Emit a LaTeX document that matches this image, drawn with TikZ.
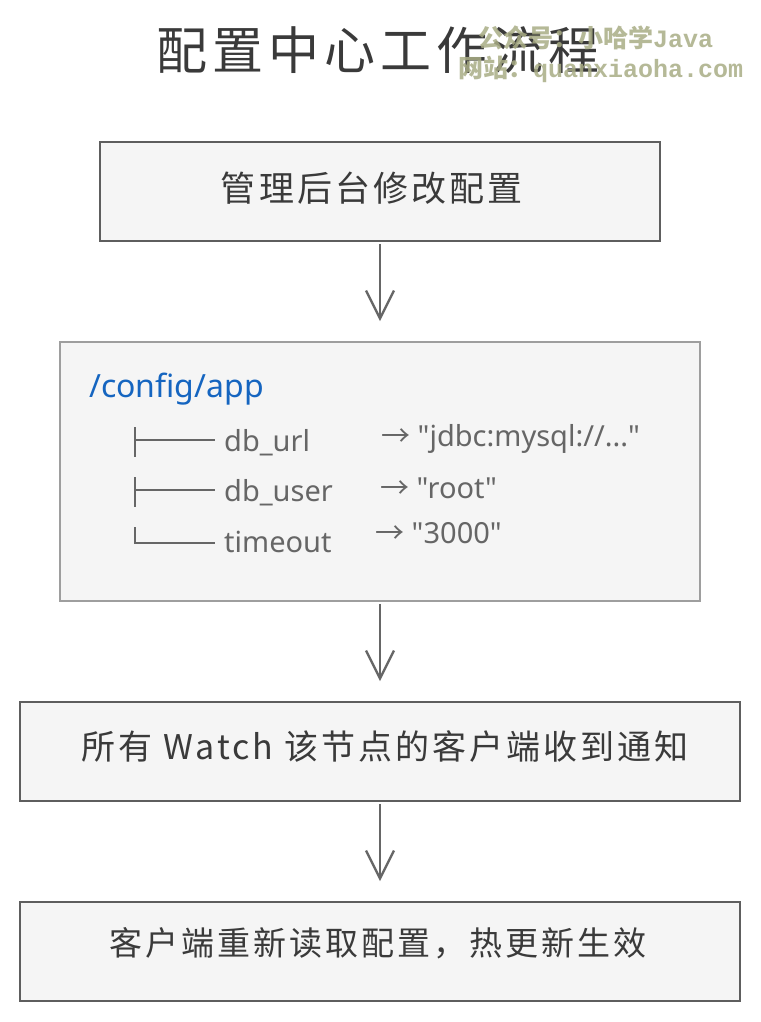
\documentclass[tikz,border=0pt]{standalone}
\usepackage{fontspec}
\setmainfont{Noto Sans}[Ligatures=TeXOff]
\newfontfamily\cjk{Noto Sans CJK SC}
\newfontfamily\cjkspaced{Noto Sans CJK SC}[LetterSpace=9]
\newfontfamily\cjktitle{Noto Sans CJK SC}[LetterSpace=10]
\newfontfamily\wmmono{Liberation Mono}
\usetikzlibrary{arrows.meta}
\definecolor{boxfill}{HTML}{F5F5F5}
\definecolor{boxline}{HTML}{5E5E5E}
\definecolor{boxlinelight}{HTML}{9E9E9E}
\definecolor{titlecol}{HTML}{3A3A3A}
\definecolor{pathblue}{HTML}{1565C0}
\definecolor{treegrey}{HTML}{666666}
\definecolor{wmcol}{HTML}{A9AD85}
\definecolor{arrcol}{HTML}{666666}
\tikzset{
  stepbox/.style={draw=boxline, line width=1.6pt, fill=boxfill, inner sep=0pt},
  keybox/.style={draw=boxlinelight, line width=1.6pt, fill=boxfill, inner sep=0pt},
  boxtext/.style={font=\cjk\fontsize{35}{40}\selectfont, text=titlecol},
  flowarr/.style={draw=arrcol, line width=2.4pt, -{Straight Barb[length=28pt,width=28pt,line width=2.4pt]}},
  treeline/.style={draw=treegrey, line width=1.3pt},
  treetext/.style={font=\fontsize{29}{33}\selectfont, text=treegrey, anchor=base west, inner sep=0pt},
  wm/.style={font=\cjk\bfseries\fontsize{25}{28}\selectfont, text=wmcol, opacity=0.85, anchor=base west, inner sep=0pt}
}
\begin{document}
\begin{tikzpicture}[x=1pt,y=-1pt]
\useasboundingbox[fill=white] (0,0) rectangle (760,1022);

% title
\node[font=\cjktitle\fontsize{51}{56}\selectfont, text=titlecol, inner sep=0pt] (title) at (378,50) {配置中心工作流程};

% watermark
\node[wm] (wm1) at (478,48) {公众号：小哈学{\wmmono\bfseries Java}};
\node[wm] (wm2) at (458,78) {网站：{\wmmono\bfseries quanxiaoha.com}};

% boxes
\node[stepbox, minimum width=560pt, minimum height=99pt] (b1) at (380,191.5) {};
\node[boxtext, font=\cjkspaced\fontsize{35}{40}\selectfont] (t1) at (372,188) {管理后台修改配置};

\node[keybox, minimum width=640pt, minimum height=259pt] (b2) at (380,471.5) {};

\node[stepbox, minimum width=720pt, minimum height=99pt] (b3) at (380,751.5) {};
\node[boxtext, font=\cjkspaced\fontsize{34}{40}\selectfont] (t3) at (385,747) {所有 Watch 该节点的客户端收到通知};

\node[stepbox, minimum width=720pt, minimum height=99pt] (b4) at (380,951.5) {};
\node[boxtext, font=\cjkspaced\fontsize{33}{40}\selectfont] (t4) at (378,943) {客户端重新读取配置，热更新生效};

% arrows
\draw[flowarr] ([yshift=-2pt]b1.south) -- ([yshift=20pt]b2.north);
\draw[flowarr] ([yshift=-2pt]b2.south) -- ([yshift=20pt]b3.north);
\draw[flowarr] ([yshift=-2pt]b3.south) -- ([yshift=20pt]b4.north);

% content of key box
\node[font=\fontsize{32}{36}\selectfont, text=pathblue, anchor=base west, inner sep=0pt] (path) at (89,397) {/config/app};

\coordinate (r1v) at (135,427);
\coordinate (r1e) at (215,440);
\draw[treeline] (r1v) -- (135,457);
\draw[treeline] (135,440) -- (r1e);
\node[treetext] (k1) at (224,451) {db\_url};
\node[treetext] (v1) at (381,446) {{\cjk →} "jdbc:mysql://..."};

\coordinate (r2v) at (135,477);
\coordinate (r2e) at (215,490);
\draw[treeline] (r2v) -- (135,507);
\draw[treeline] (135,490) -- (r2e);
\node[treetext] (k2) at (224,501) {db\_user};
\node[treetext] (v2) at (380,498) {{\cjk →} "root"};

\coordinate (r3v) at (135,527);
\coordinate (r3e) at (215,543);
\draw[treeline] (r3v) -- (135,543) -- (r3e);
\node[treetext] (k3) at (224,552) {timeout};
\node[treetext] (v3) at (375,543) {{\cjk →} "3000"};
\end{tikzpicture}
\end{document}
